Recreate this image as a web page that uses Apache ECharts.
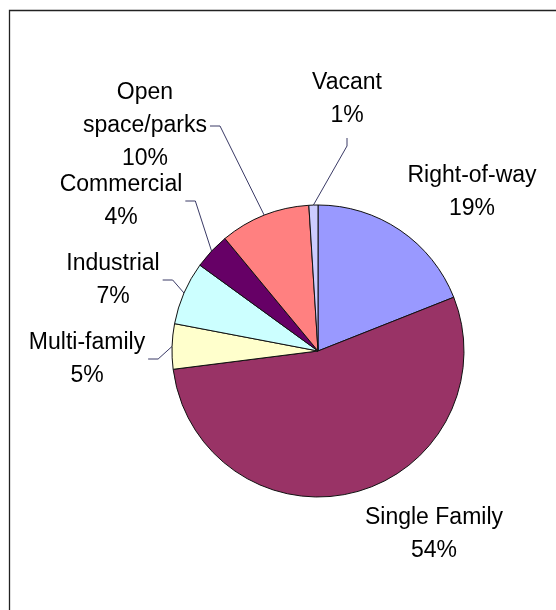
<!DOCTYPE html>
<html>
<head>
<meta charset="utf-8">
<script src="https://cdn.jsdelivr.net/npm/echarts@6/dist/echarts.min.js"></script>
<style>
  html, body { margin: 0; padding: 0; background: #ffffff; }
  #chart { width: 556px; height: 610px; }
</style>
</head>
<body>
<div id="chart"></div>
<script>
// Land use shares, clockwise from twelve o'clock
const categories = ['Right-of-way', 'Single Family', 'Multi-family', 'Industrial', 'Commercial', 'Open\nspace/parks', 'Vacant'];
const shares = [19, 54, 5, 7, 4, 10, 1];

// Slice fills
const sliceColors = ['#9999FF', '#993366', '#FFFFCC', '#CCFFFF', '#660066', '#FF8080', '#CCCCFF'];

// Label block centres and leader style: 'left' = leader leaves the label's right side,
// 'below' = leader drops from under the label, null = no leader
const labelPlacement = [
  { x: 472, y: 192, leader: null },
  { x: 434, y: 534, leader: null },
  { x: 87,  y: 359, leader: 'left' },
  { x: 113, y: 280, leader: 'left' },
  { x: 121, y: 201, leader: 'left' },
  { x: 145, y: 126, leader: 'left' },
  { x: 347, y: 99,  leader: 'below' }
];

const chart = echarts.init(document.getElementById('chart'), null, { renderer: 'canvas' });

const seriesData = categories.map((name, i) => ({
  name: name,
  value: shares[i],
  itemStyle: { color: sliceColors[i] },
  labelLine: { show: labelPlacement[i].leader !== null }
}));

chart.setOption({
  animation: false,
  backgroundColor: '#ffffff',
  graphic: [{
    type: 'rect',
    shape: { x: 9.5, y: 10.5, width: 700, height: 800 },
    style: { fill: 'none', stroke: '#222222', lineWidth: 1.3 },
    silent: true,
    z: 10
  }],
  series: [{
    type: 'pie',
    center: [318, 351],
    radius: 146,
    startAngle: 90,
    clockwise: true,
    avoidLabelOverlap: false,
    itemStyle: { borderColor: '#111111', borderWidth: 1 },
    emphasis: { disabled: true },
    label: {
      show: true,
      position: 'outside',
      formatter: p => p.name + '\n' + p.value + '%',
      fontFamily: 'Liberation Sans, Arial, sans-serif',
      fontSize: 23,
      lineHeight: 33,
      color: '#000000',
      align: 'center'
    },
    labelLine: {
      show: true,
      lineStyle: { color: '#3a3a66', width: 1 }
    },
    labelLayout: function (params) {
      const i = params.dataIndex;
      const place = labelPlacement[i];
      const rect = params.labelRect;
      const out = { x: place.x, y: place.y, align: 'center', verticalAlign: 'middle' };
      const pts = params.labelLinePoints;
      if (place.leader && pts && pts.length) {
        const start = pts[0];
        if (place.leader === 'left') {
          const ex = place.x + rect.width / 2 + 3;
          out.labelLinePoints = [start, [ex + 10, place.y], [ex, place.y]];
        } else {
          const ey = place.y + rect.height / 2 + 6;
          out.labelLinePoints = [start, [place.x, ey + 8], [place.x, ey]];
        }
      }
      return out;
    },
    data: seriesData
  }]
});
</script>
</body>
</html>
